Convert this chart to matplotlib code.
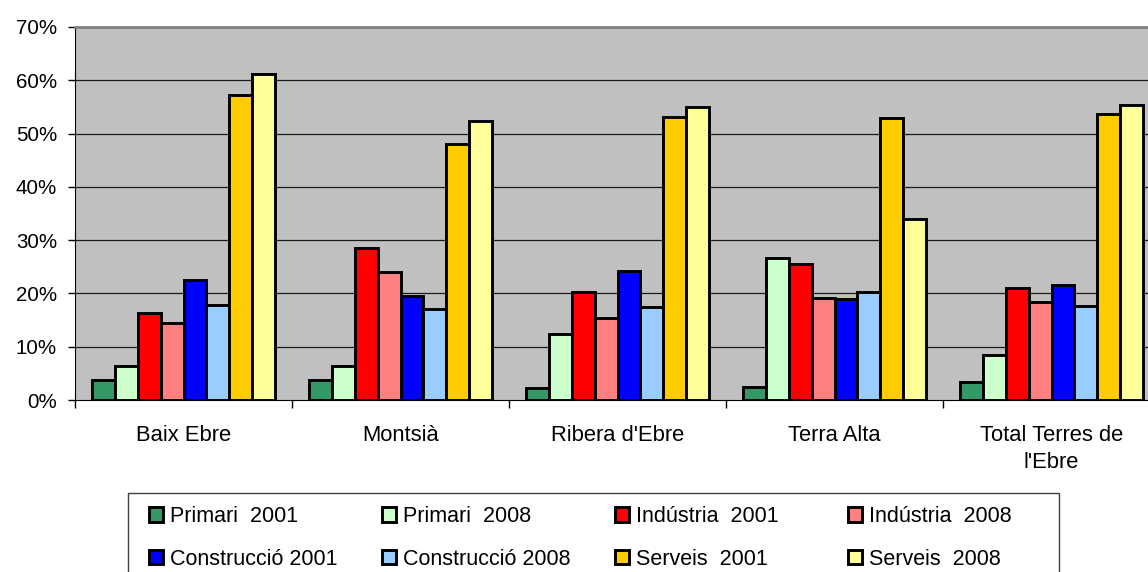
import matplotlib
matplotlib.use("Agg")
import matplotlib.pyplot as plt
import matplotlib.patches as mpatches
import numpy as np

plt.rcParams['font.family'] = ['Liberation Sans', 'DejaVu Sans']

categories = ["Baix Ebre", "Montsià", "Ribera d'Ebre", "Terra Alta", "Total Terres de\nl'Ebre"]
series_names = ["Primari  2001", "Primari  2008", "Indústria  2001", "Indústria  2008",
                "Construcció 2001", "Construcció 2008", "Serveis  2001", "Serveis  2008"]
colors = ["#339966", "#CCFFCC", "#FF0000", "#FF8080", "#0000FF", "#99CCFF", "#FFCC00", "#FFFF99"]

primari_2001 = [3.75, 3.75, 2.2, 2.4, 3.4]
primari_2008 = [6.4, 6.4, 12.3, 26.6, 8.4]
industria_2001 = [16.3, 28.6, 20.3, 25.6, 21.1]
industria_2008 = [14.5, 24.0, 15.3, 19.2, 18.3]
construccio_2001 = [22.6, 19.5, 24.2, 18.9, 21.5]
construccio_2008 = [17.8, 17.0, 17.4, 20.2, 17.7]
serveis_2001 = [57.3, 48.1, 53.1, 52.9, 53.7]
serveis_2008 = [61.1, 52.4, 54.9, 34.0, 55.4]

series = [primari_2001, primari_2008, industria_2001, industria_2008,
          construccio_2001, construccio_2008, serveis_2001, serveis_2008]

W, H = 1148, 572
fig = plt.figure(figsize=(W / 100, H / 100), dpi=100)
ax = fig.add_axes([75 / W, (H - 400) / H, (1160 - 75) / W, (400 - 27) / H])
ax.set_facecolor("#C0C0C0")

x = np.arange(len(categories))
w = 1 / 9.5
bars = []
for k, (vals, name, col) in enumerate(zip(series, series_names, colors)):
    b = ax.bar(x + (k - 3.5) * w, np.array(vals) / 100, width=w, color=col,
               edgecolor="black", linewidth=2.1, label=name, zorder=3)
    bars.append(b)

ax.set_xlim(-0.5, len(categories) - 0.5)
ax.set_ylim(0, 0.70)
yt = np.arange(0, 0.71, 0.10)
ax.set_yticks(yt)
ax.set_yticklabels([f"{int(round(v * 100))}%" for v in yt], fontsize=14.8)
for v in yt[1:-1]:
    ax.axhline(v, color="#1a1a1a", linewidth=0.9, zorder=1)

ax.set_xticks(x)
ax.set_xticklabels(categories, fontsize=15.8, linespacing=1.4)
ax.set_xticks(np.arange(-0.5, len(categories) + 0.5, 1), minor=True)
ax.tick_params(axis="x", which="major", length=0, pad=18)
ax.tick_params(axis="x", which="minor", length=6, direction="out", width=1)
ax.tick_params(axis="y", length=5, direction="out", width=1, pad=8)

ax.spines["top"].set_color("#808080")
ax.spines["top"].set_linewidth(2)
ax.spines["right"].set_visible(False)
ax.spines["left"].set_color("black")
ax.spines["bottom"].set_color("black")

# legend frame
frame = mpatches.Rectangle((127.7 / W, -0.1), (1059 - 127.7) / W, 0.1 + (H - 493.3) / H,
                           transform=fig.transFigure, facecolor="white",
                           edgecolor="#404040", linewidth=1, zorder=0)
fig.patches.append(frame)

col_x = [149, 382, 615, 848]
order = [(0, 4), (1, 5), (2, 6), (3, 7)]
for cx, (a, b) in zip(col_x, order):
    leg = fig.legend([bars[a], bars[b]], [series_names[a], series_names[b]],
                     loc="upper left", bbox_to_anchor=(cx / W, 1 - 506 / H),
                     frameon=False, borderpad=0, borderaxespad=0,
                     handlelength=0.65, handleheight=0.65, handletextpad=0.32,
                     labelspacing=1.0, fontsize=15.5)

fig.savefig("out.png", dpi=100)
